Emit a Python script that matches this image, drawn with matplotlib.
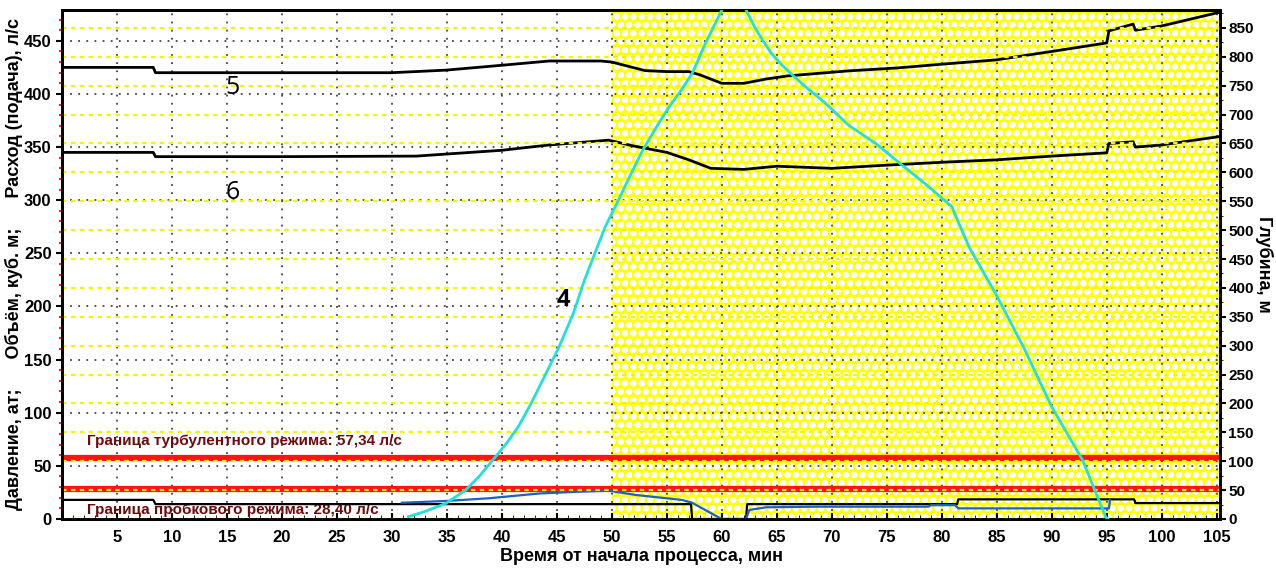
import matplotlib
matplotlib.use("Agg")
import matplotlib.pyplot as plt
from matplotlib.ticker import MultipleLocator

plt.rcParams['font.family'] = ['Liberation Sans Narrow', 'Liberation Sans', 'DejaVu Sans']
plt.rcParams['hatch.linewidth'] = 2.0

# curve 5 - flow (left axis)
x5 = [0, 8.3, 8.5, 20, 30, 34.9, 40, 44.3, 49, 50, 51.5, 53, 55, 57, 58, 60, 62, 64, 66,
      71.5, 76, 80, 84.9, 90, 95, 95.2, 97.4, 97.6, 100, 105.3]
y5 = [425, 425, 420, 420, 420, 422.4, 427, 431, 431, 430, 426, 422, 421, 421, 418, 410,
      410, 414, 417, 421.7, 424.5, 428, 432, 440, 448, 459.4, 465.7, 460, 464, 477]

# curve 6 - volume (left axis)
x6 = [0, 8.3, 8.5, 20, 32.2, 40, 44.3, 49.7, 52, 55, 57, 59, 62, 65, 70, 75, 80.6,
      85, 90, 95, 95.2, 97.4, 97.6, 100, 105.3]
y6 = [345, 345, 341, 341, 341.5, 347, 352, 356.5, 351, 345, 338, 330, 329, 332, 330,
      333, 336, 338, 341.5, 344.6, 353.4, 355, 350, 352, 360]

# curve 4 - depth (right axis)
x4 = [31.5, 33, 34.9, 36.7, 38, 39.3, 40.5, 41.5, 42.6, 43.7, 45.2, 46.5, 47.5, 48.5,
      49.4, 50.6, 51.7, 52.8, 54, 55.2, 56.3, 57.3, 58.5, 60.0, 60.8, 61.5, 62.2, 63.0,
      63.7, 64.5, 65.5, 66.5, 67.5, 69.4, 71.5, 74, 76.1, 78.5, 80.9, 82.5, 84.9,
      87.5, 90.0, 92.8, 94.9, 95.1]
y4 = [4, 13, 27, 50, 75, 105, 133, 160, 198, 240, 298, 356, 413, 462, 506, 552, 596,
      638, 677, 713, 742, 771, 823, 881, 915, 912, 881, 851, 829, 806, 785, 767, 750,
      720, 682, 650, 617, 580, 541, 470, 390, 295, 194, 102, 4, 0]

# pressure (blue, left axis)
xp = [30.9, 35, 38.8, 43.4, 47, 49.7, 52.2, 56.4, 57.3, 59.7, 60.0, 62.2, 62.5, 64,
      68.5, 78.8, 79.0, 81.2, 81.5, 83.4, 95.2, 95.3]
yp = [15.3, 17, 19.5, 24, 25.7, 26.6, 22.6, 17.9, 15.3, 1.6, 0, 0, 8.5, 11, 11.6, 11.6,
      13, 13, 10, 10, 10, 18]

# bottom black step line (left axis)
xb = [0, 8.3, 8.5, 57.2, 57.3, 62.2, 62.3, 81.4, 81.5, 97.5, 97.6, 105.3]
yb = [18, 18, 14, 14, 0, 0, 14, 14, 18.5, 18.5, 15, 15]

turb_limit = 57.34
plug_limit = 28.40
turb_text = 'Граница турбулентного режима: 57,34 л/с'
plug_text = 'Граница пробкового режима: 28,40 л/с'

fig = plt.figure(figsize=(12.76, 5.72), dpi=100)
ax = fig.add_axes([62 / 1276, 53 / 572, 1158 / 1276, 509 / 572])
ax.set_xlim(0, 105.3)
ax.set_ylim(0, 479)

ax.axvspan(50, 106, facecolor='#ffff10', edgecolor='white', hatch='oo', lw=0, zorder=0.5)

ax.yaxis.set_major_locator(MultipleLocator(50))
ax.xaxis.set_minor_locator(MultipleLocator(1))
ax.set_xticks(range(5, 106, 5))
ax.grid(True, which='major', color='#444444', linestyle=(0, (1, 3.5)), lw=1.3)

ax.axhline(turb_limit, color='#ff1414', lw=4.5, zorder=3)
ax.axhline(plug_limit, color='#ff1414', lw=4.5, zorder=3)
ax.text(2.3, 73, turb_text, color='#6e0a0a', fontsize=11, fontweight='bold', va='center', zorder=2)
ax.text(2.3, 8.5, plug_text, color='#6e0a0a', fontsize=11, fontweight='bold', va='center', zorder=2)

ax.plot(x5, y5, color='black', lw=2, zorder=4)
ax.plot(x6, y6, color='black', lw=2, zorder=4)
ax.plot(xb, yb, color='black', lw=1.6, zorder=4)
ax.plot(xp, yp, color='#1f5fc8', lw=1.6, zorder=4)

num_font = ['Open Sans', 'Lato', 'DejaVu Sans']
ax.text(15.5, 406, '5', fontsize=18, family=num_font, fontweight='medium', ha='center', va='center', zorder=5)
ax.text(15.5, 307, '6', fontsize=18, family=num_font, fontweight='medium', ha='center', va='center', zorder=5)
ax.text(45.6, 206, '4', fontsize=17, family=num_font, fontweight='bold', ha='center', va='center', zorder=5)

ax2 = ax.twinx()
ax2.set_ylim(0, 881)
ax2.yaxis.set_major_locator(MultipleLocator(50))
ax2.yaxis.set_minor_locator(MultipleLocator(25))
ax2.grid(True, axis='y', color='#f5f500', linestyle=(0, (2, 2)), lw=1.6)
ax2.plot(x4, y4, color='#22e0d8', lw=2, zorder=4)

for a in (ax, ax2):
    for s in a.spines.values():
        s.set_linewidth(2)
        s.set_color('black')
    a.tick_params(labelsize=12, width=1.5, length=4)
    for lab in a.get_xticklabels() + a.get_yticklabels():
        lab.set_fontweight('bold')
ax2.tick_params(labelsize=11, pad=2)
ax.yaxis.set_minor_locator(MultipleLocator(10))
ax.tick_params(axis='y', which='minor', colors='#ff2020', length=2, width=1.5)
ax.tick_params(axis='x', which='minor', direction='in', length=3)
ax.tick_params(axis='x', which='major', direction='in', pad=8)

ax.set_xlabel('Время от начала процесса, мин', fontsize=13, fontweight='bold', labelpad=2)
ax.set_ylabel('Давление, ат;      Объём, куб. м;      Расход (подача), л/с',
              fontsize=13, fontweight='bold', labelpad=1)
ax2.set_ylabel('Глубина, м', fontsize=13, fontweight='bold', rotation=270, labelpad=14)

fig.savefig('out.png', dpi=100)
